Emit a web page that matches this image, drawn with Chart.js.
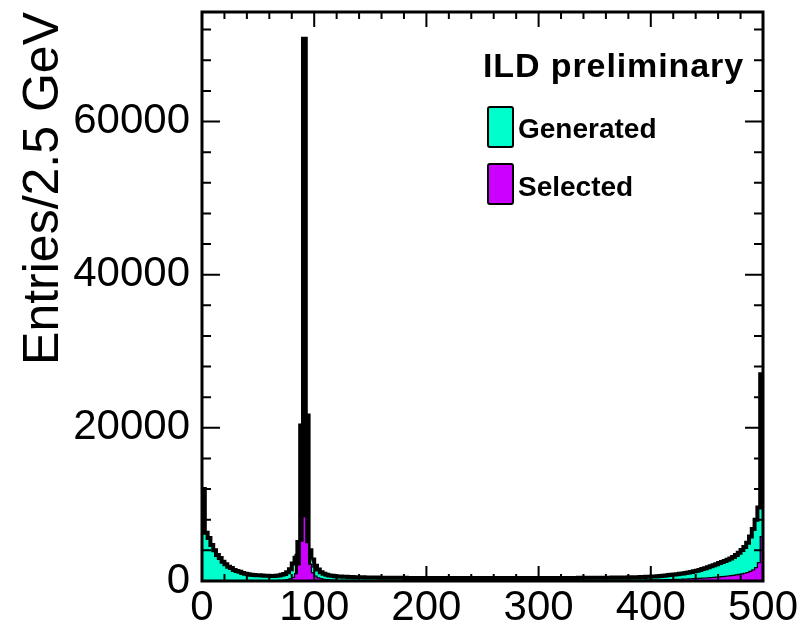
<!DOCTYPE html>
<html>
<head>
<meta charset="utf-8">
<script src="https://cdn.jsdelivr.net/npm/chart.js@4.4.0/dist/chart.umd.min.js"></script>
<style>
  html, body { margin: 0; padding: 0; background: #fff; }
  #wrap { position: relative; width: 804px; height: 631px; overflow: hidden; }
  canvas { display: block; }
  .leg { position: absolute; font-family: "Liberation Sans", Arial, Helvetica, sans-serif; font-weight: bold; color: #000; white-space: nowrap; line-height: 1; }
  .box { position: absolute; box-sizing: border-box; border: 2.5px solid #000; border-radius: 3px; }
</style>
</head>
<body>
<div id="wrap">
  <canvas id="c" width="804" height="631"></canvas>
  <div id="legend"></div>
</div>
<script>
// ---------------- data ----------------
const BIN_WIDTH = 2.5;           // GeV per bin
const X_MIN = 0, X_MAX = 500;
const Y_MAX = 74300;
const X_TICK_LABELS = [0, 100, 200, 300, 400, 500];
const Y_TICK_LABELS = [0, 20000, 40000, 60000];
const X_MINOR_STEP = 20, Y_MINOR_STEP = 4000;
const LEGEND_TITLE = "ILD preliminary";
const SERIES_LABELS = ["Generated", "Selected"];
const AXIS_TITLE_Y = "Entries/2.5 GeV";

// Generated, 200 bins of 2.5 GeV from 0 to 500
const generated = [
  12000, 6300, 5600, 4700, 4000, 3400, 3000, 2500, 2200, 1850,
  1700, 1450, 1300, 1200, 1050, 950, 870, 820, 780, 760,
  740, 710, 690, 670, 660, 660, 680, 720, 800, 920,
  1150, 1550, 2300, 3300, 5100, 20300, 70800, 21600, 4000, 2800,
  2000, 1500, 1150, 950, 820, 730, 670, 620, 600, 575,
  555, 540, 525, 512, 500, 490, 482, 474, 466, 460,
  454, 448, 443, 438, 434, 430, 426, 423, 420, 417,
  414, 412, 409, 407, 405, 403, 401, 399, 398, 396,
  395, 394, 393, 392, 391, 390, 390, 389, 388, 388,
  387, 387, 386, 386, 385, 385, 385, 384, 384, 384,
  384, 384, 384, 384, 385, 385, 385, 385, 386, 386,
  386, 387, 387, 388, 388, 389, 389, 390, 390, 391,
  392, 393, 394, 395, 396, 397, 398, 399, 400, 401,
  403, 404, 406, 407, 409, 411, 413, 415, 417, 419,
  421, 424, 427, 430, 434, 438, 442, 447, 452, 458,
  464, 471, 478, 486, 495, 505, 516, 528, 541, 560,
  580, 600, 630, 660, 700, 730, 770, 810, 850, 890,
  940, 990, 1050, 1120, 1190, 1270, 1350, 1450, 1560, 1680,
  1800, 1920, 2050, 2200, 2350, 2480, 2620, 2780, 2950, 3150,
  3400, 3700, 4050, 4450, 5000, 5800, 6800, 8000, 9600, 27000
];

// Selected, same binning
const selected = [
  40, 20, 15, 12, 10, 10, 10, 10, 10, 10,
  10, 10, 10, 10, 12, 12, 14, 15, 16, 18,
  20, 20, 25, 30, 35, 45, 55, 70, 90, 120,
  170, 280, 480, 950, 2100, 5200, 8400, 5000, 2200, 1100,
  650, 420, 300, 220, 170, 140, 120, 105, 95, 88,
  82, 78, 75, 72, 70, 68, 66, 64, 62, 61,
  60, 59, 58, 57, 56, 56, 55, 55, 54, 54,
  54, 53, 53, 53, 53, 52, 52, 52, 52, 52,
  52, 52, 52, 51, 51, 51, 51, 51, 51, 51,
  51, 51, 51, 51, 51, 52, 52, 52, 52, 52,
  52, 52, 53, 53, 53, 53, 54, 54, 54, 55,
  55, 55, 56, 56, 57, 57, 58, 58, 59, 60,
  60, 61, 62, 63, 64, 65, 66, 67, 68, 69,
  70, 72, 73, 75, 76, 78, 80, 82, 84, 86,
  88, 90, 92, 94, 96, 98, 100, 103, 106, 109,
  112, 115, 118, 121, 124, 127, 130, 133, 136, 138,
  140, 145, 150, 158, 166, 175, 184, 194, 205, 217,
  230, 244, 259, 275, 292, 310, 330, 350, 372, 395,
  420, 447, 476, 507, 540, 575, 613, 654, 698, 745,
  800, 860, 930, 1010, 1110, 1250, 1450, 1750, 2400, 5800
];

const COLOR_GEN = "#00fecc";
const COLOR_SEL = "#cc00ff";
// narrow Z-peak bins whose cyan fill disappears under the thick outline in the reference
const PEAK_DARK_RANGE = [82.5, 95];

// ---------------- build histogram step points ----------------
function histPoints(vals) {
  const pts = vals.map((v, i) => ({ x: X_MIN + i * BIN_WIDTH, y: v }));
  pts.push({ x: X_MIN + vals.length * BIN_WIDTH, y: vals[vals.length - 1] });
  return pts;
}

const FONT = "'Liberation Sans', Arial, Helvetica, sans-serif";
Chart.defaults.font.family = FONT;
Chart.defaults.color = "#000";

const frameTicks = {
  id: "frameTicks",
  afterDatasetsDraw(chart) {
    const { ctx, chartArea: a, scales: { x, y } } = chart;
    ctx.save();
    ctx.strokeStyle = "#000";
    ctx.lineWidth = 2;
    ctx.beginPath();
    for (let v = X_MIN; v <= X_MAX; v += X_MINOR_STEP) {
      const px = x.getPixelForValue(v);
      const len = X_TICK_LABELS.includes(v) ? 15 : 7;
      ctx.moveTo(px, a.bottom); ctx.lineTo(px, a.bottom - len);
      ctx.moveTo(px, a.top); ctx.lineTo(px, a.top + len);
    }
    for (let v = 0; v <= Y_MAX; v += Y_MINOR_STEP) {
      const py = y.getPixelForValue(v);
      const len = Y_TICK_LABELS.includes(v) ? 18 : 9;
      ctx.moveTo(a.left, py); ctx.lineTo(a.left + len, py);
      ctx.moveTo(a.right, py); ctx.lineTo(a.right - len, py);
    }
    ctx.stroke();
    ctx.lineWidth = 3;
    ctx.strokeRect(a.left, a.top, a.right - a.left, a.bottom - a.top);
    ctx.restore();
  }
};

const chart = new Chart(document.getElementById("c"), {
  type: "line",
  data: {
    datasets: [
      {
        label: SERIES_LABELS[0],
        data: histPoints(generated),
        stepped: "before",
        backgroundColor: COLOR_GEN,
        borderColor: "#000",
        borderWidth: 4,
        fill: "origin",
        pointRadius: 0,
        order: 2,
        segment: {
          backgroundColor: c => (c.p0.parsed.x >= PEAK_DARK_RANGE[0] && c.p0.parsed.x <= PEAK_DARK_RANGE[1]) ? "#000" : undefined
        }
      },
      {
        label: SERIES_LABELS[1],
        data: histPoints(selected),
        stepped: "before",
        backgroundColor: COLOR_SEL,
        borderColor: "#000",
        borderWidth: 1.2,
        fill: "origin",
        pointRadius: 0,
        order: 1
      }
    ]
  },
  options: {
    responsive: false,
    devicePixelRatio: 1,
    animation: false,
    layout: { padding: { top: 12, right: 41, left: 0, bottom: 0 } },
    plugins: { legend: { display: false }, tooltip: { enabled: false } },
    scales: {
      x: {
        type: "linear",
        min: X_MIN, max: X_MAX,
        grid: { display: false, drawTicks: false },
        border: { display: false },
        afterBuildTicks: (s) => { s.ticks = X_TICK_LABELS.map(v => ({ value: v })); },
        ticks: { font: { size: 42 }, padding: 2, maxRotation: 0, autoSkip: false, callback: v => String(v) },
        afterFit: (s) => { s.height = 50; s.paddingLeft = 0; s.paddingRight = 0; }
      },
      y: {
        type: "linear",
        min: 0, max: Y_MAX,
        grid: { display: false, drawTicks: false },
        border: { display: false },
        afterBuildTicks: (s) => { s.ticks = Y_TICK_LABELS.map(v => ({ value: v })); },
        ticks: { font: { size: 42 }, padding: 12, autoSkip: false, callback: v => String(v) },
        title: { display: true, text: AXIS_TITLE_Y, align: "end", font: { size: 50 }, padding: { top: 14.5, bottom: 0 } },
        afterFit: (s) => { s.width = 202; s.paddingTop = 0; s.paddingBottom = 0; }
      }
    }
  },
  plugins: [frameTicks]
});

// ---------------- legend (HTML text, built from dataset labels) ----------------
(function buildLegend() {
  const lg = document.getElementById("legend");
  const t = document.createElement("div");
  t.className = "leg";
  t.textContent = LEGEND_TITLE;
  t.style.cssText = "left:483px;top:48px;font-size:34px;letter-spacing:0.9px;";
  lg.appendChild(t);
  const boxTops = [106, 163], textTops = [115, 173];
  chart.data.datasets.forEach((ds, i) => {
    const b = document.createElement("div");
    b.className = "box";
    b.style.cssText = `left:487px;top:${boxTops[i]}px;width:27px;height:42px;background:${ds.backgroundColor};`;
    lg.appendChild(b);
    const l = document.createElement("div");
    l.className = "leg";
    l.textContent = ds.label;
    l.style.cssText = `left:518px;top:${textTops[i]}px;font-size:28px;`;
    lg.appendChild(l);
  });
})();
</script>
</body>
</html>
